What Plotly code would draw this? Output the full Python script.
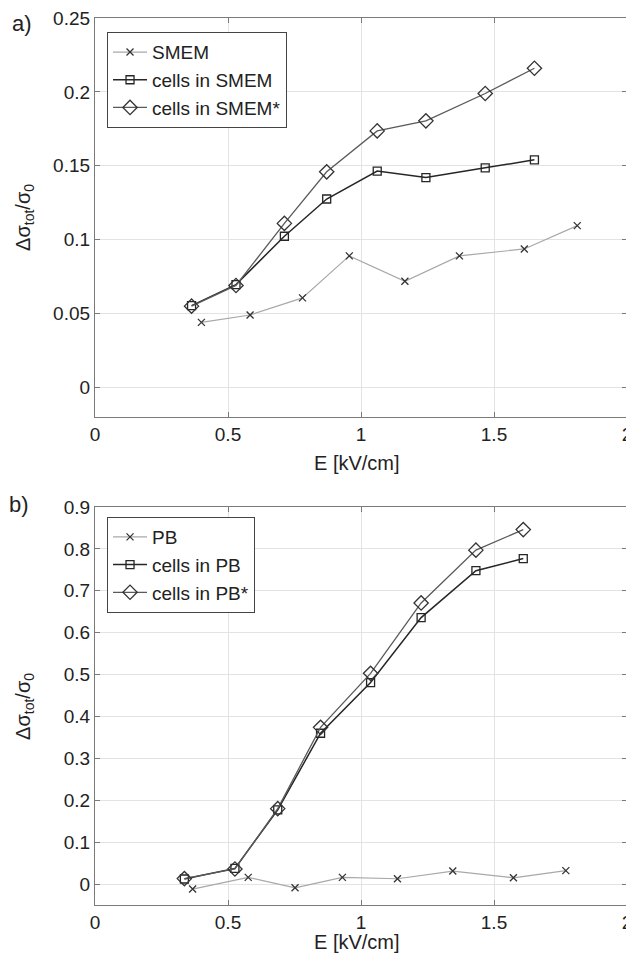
import plotly.graph_objects as go
from plotly.subplots import make_subplots

# a) SMEM
smem_x = [0.40, 0.583, 0.78, 0.956, 1.165, 1.37, 1.614, 1.813]
smem_y = [0.044, 0.049, 0.0606, 0.089, 0.0718, 0.089, 0.0937, 0.1095]
cells_smem_x = [0.363, 0.53, 0.712, 0.871, 1.061, 1.244, 1.467, 1.652]
cells_smem_y = [0.0554, 0.0696, 0.1023, 0.1275, 0.1464, 0.142, 0.1486, 0.154]
cells_smem_star_y = [0.055, 0.069, 0.111, 0.1459, 0.1736, 0.1804, 0.1989, 0.216]

# b) PB
pb_x = [0.367, 0.576, 0.752, 0.93, 1.137, 1.345, 1.573, 1.77]
pb_y = [-0.012, 0.016, -0.009, 0.016, 0.0127, 0.031, 0.015, 0.032]
cells_pb_x = [0.336, 0.526, 0.687, 0.848, 1.036, 1.226, 1.432, 1.61]
cells_pb_y = [0.012, 0.0374, 0.177, 0.36, 0.481, 0.636, 0.748, 0.777]
cells_pb_star_y = [0.013, 0.036, 0.18, 0.374, 0.503, 0.671, 0.797, 0.846]

FONT = "Liberation Sans, Arial, sans-serif"
TXT = "#222222"

fig = make_subplots(rows=2, cols=1, vertical_spacing=0.1015)

def add_set(row, legend, xs, ys, name, sym, lcol, mcol, lw, ms):
    # open symbols take their stroke from marker.color
    fig.add_trace(go.Scatter(
        x=xs, y=ys, name=name, mode="lines+markers", legend=legend,
        line=dict(color=lcol, width=lw),
        marker=dict(symbol=sym, size=ms, color=mcol, line=dict(color=mcol, width=1.3)),
    ), row=row, col=1)

add_set(1, "legend", smem_x, smem_y, "SMEM", "x-thin-open", "#a8a8a8", "#333333", 1.2, 7)
add_set(1, "legend", cells_smem_x, cells_smem_y, "cells in SMEM", "square-open", "#262626", "#262626", 1.5, 8)
add_set(1, "legend", cells_smem_x, cells_smem_star_y, "cells in SMEM*", "diamond-open", "#5a5a5a", "#333333", 1.3, 11)

add_set(2, "legend2", pb_x, pb_y, "PB", "x-thin-open", "#a8a8a8", "#333333", 1.2, 7)
add_set(2, "legend2", cells_pb_x, cells_pb_y, "cells in PB", "square-open", "#262626", "#262626", 1.5, 8)
add_set(2, "legend2", cells_pb_x, cells_pb_star_y, "cells in PB*", "diamond-open", "#5a5a5a", "#333333", 1.3, 11)

axis_style = dict(
    showgrid=True, gridcolor="#e3e3e3", gridwidth=1,
    showline=True, linecolor="#7a7a7a", linewidth=1.2, mirror="ticks",
    ticks="inside", ticklen=5, tickcolor="#7a7a7a",
    zeroline=False, tickfont=dict(size=19, color=TXT, family=FONT),
    ticklabeloverflow="allow", automargin=False,
)

fig.update_xaxes(axis_style)
fig.update_yaxes(axis_style)

xticks = [0, 0.5, 1, 1.5, 2]
xlabels = ["0", "0.5", "1", "1.5", "2"]
fig.update_xaxes(range=[0, 2], tickvals=xticks, ticktext=xlabels, row=1, col=1)
fig.update_xaxes(range=[0, 2], tickvals=xticks, ticktext=xlabels, row=2, col=1)
fig.update_yaxes(range=[-0.02, 0.25], tickvals=[0, 0.05, 0.1, 0.15, 0.2, 0.25],
                 ticktext=["0", "0.05", "0.1", "0.15", "0.2", "0.25"],
                 domain=[0.5502, 1.0], row=1, col=1)
fig.update_yaxes(range=[-0.05, 0.9], tickvals=[0, 0.1, 0.2, 0.3, 0.4, 0.5, 0.6, 0.7, 0.8, 0.9],
                 ticktext=["0", "0.1", "0.2", "0.3", "0.4", "0.5", "0.6", "0.7", "0.8", "0.9"],
                 domain=[0.0, 0.4487], row=2, col=1)

legend_style = dict(
    bgcolor="white", bordercolor="#444444", borderwidth=1,
    font=dict(size=19, color=TXT, family=FONT),
    xanchor="left", yanchor="top", tracegroupgap=0, itemwidth=34,
    entrywidth=165, entrywidthmode="pixels",
)

ylabel = "Δσ<sub>tot</sub>/σ<sub>0</sub>"

def note(text, x, y, size=20, angle=0):
    return dict(text=text, x=x, y=y, xref="paper", yref="paper", showarrow=False,
                xanchor="center", yanchor="middle", textangle=angle,
                font=dict(size=size, color=TXT, family=FONT))

# the page body adds an 8px margin, so the figure is 8px smaller on each side
fig.update_layout(
    width=626, height=955,
    margin=dict(l=87, r=7, t=10, b=58, autoexpand=False),
    paper_bgcolor="white", plot_bgcolor="white",
    legend=dict(legend_style, x=0.0226, y=0.984),
    legend2=dict(legend_style, x=0.0226, y=0.4374),
    annotations=[
        note("a)", -0.138, 0.994, 22),
        note("b)", -0.142, 0.452, 22),
        note("E [kV/cm]", 0.492, 0.4983),
        note("E [kV/cm]", 0.492, -0.042),
        note(ylabel, -0.1316, 0.7757, 20, -90),
        note(ylabel, -0.1316, 0.2244, 20, -90),
    ],
)

fig.write_html("out.html")
